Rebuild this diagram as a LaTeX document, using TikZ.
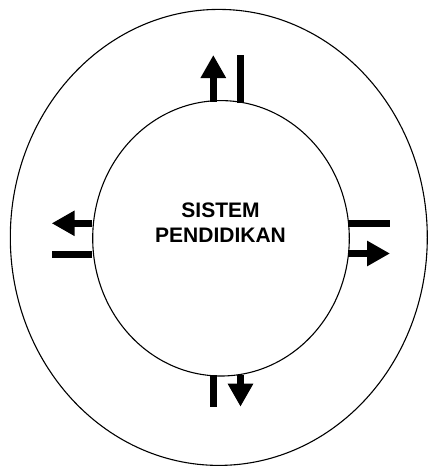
\documentclass[tikz,border=0pt]{standalone}
\usepackage{fontspec}
\setmainfont{Liberation Sans}
\usetikzlibrary{arrows.meta}
\begin{document}
\begin{tikzpicture}[x=1pt,y=-1pt,
  ring/.style={draw=black,line width=1.1pt},
  flowbar/.style={line width=7pt},
  flowarrow/.style={line width=7pt,-{Triangle[width=24pt,length=23pt]}}]
\useasboundingbox (0,0) rectangle (428,466);
\draw[ring] (218.8,237.4) ellipse [x radius=208.5, y radius=228];
\draw[ring] (221,238.3) ellipse [x radius=128.3, y radius=137.7];
\node[font={\bfseries\fontsize{21pt}{25.3pt}\selectfont}, align=center, inner sep=0pt] (txt) at (220.5,222.5) {SISTEM\\PENDIDIKAN};
% top
\coordinate (t1a) at (213.3,101.7); \coordinate (t1b) at (213.3,55);
\coordinate (t2a) at (240.7,102.7); \coordinate (t2b) at (240.7,55);
\draw[flowarrow] (t1a) -- (t1b);
\draw[flowbar] (t2a) -- (t2b);
% left
\coordinate (l1a) at (92,223.3); \coordinate (l1b) at (51.7,223.3);
\coordinate (l2a) at (92,254.2); \coordinate (l2b) at (51.7,254.2);
\draw[flowarrow] (l1a) -- (l1b);
\draw[flowbar] (l2a) -- (l2b);
% right
\coordinate (r1a) at (348.3,223.3); \coordinate (r1b) at (390,223.3);
\coordinate (r2a) at (348.3,253.5); \coordinate (r2b) at (390,253.5);
\draw[flowbar] (r1a) -- (r1b);
\draw[flowarrow] (r2a) -- (r2b);
% bottom
\coordinate (b1a) at (213.7,375); \coordinate (b1b) at (213.7,406.7);
\coordinate (b2a) at (240.5,375); \coordinate (b2b) at (240.5,406.7);
\draw[flowbar] (b1a) -- (b1b);
\draw[flowarrow] (b2a) -- (b2b);
\end{tikzpicture}
\end{document}
